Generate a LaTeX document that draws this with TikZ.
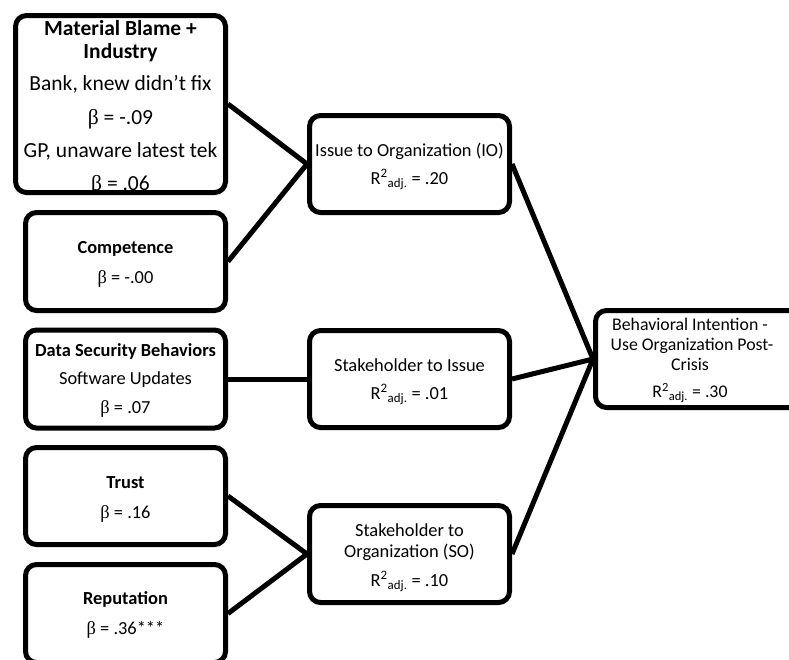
\documentclass[tikz,border=0pt]{standalone}
\usepackage{fontspec}
\setmainfont{Carlito}
\newfontfamily\grk{Liberation Serif}
\newcommand{\bet}{{\grk β}}
\newcommand{\Radj}{R\textsuperscript{2}\textsubscript{adj.}}
\begin{document}
\begin{tikzpicture}[x=1pt,y=-1pt,
  box/.style={draw=black,line width=5pt,rounded corners=11pt,fill=white,inner sep=0pt},
  lbox/.style={box,minimum width=200pt,minimum height=98pt},
  mbox/.style={box,minimum width=200pt,minimum height=97pt},
  conn/.style={draw=black,line width=5pt},
  txt/.style={font=\fontsize{18.4}{22}\selectfont,inner sep=0pt,text height=14pt,text depth=1.9pt},
  btxt/.style={txt,font=\fontsize{18.4}{22}\selectfont\bfseries},
  rtxt/.style={font=\fontsize{17.8}{20}\selectfont,inner sep=0pt,text height=13.5pt,text depth=1.8pt},
  bigtxt/.style={font=\fontsize{21.5}{25}\selectfont,inner sep=0pt,text height=16.3pt,text depth=2.1pt},
  bigbtxt/.style={bigtxt,font=\fontsize{21.5}{25}\selectfont\bfseries}]
\useasboundingbox (0,0) rectangle (789,659);
\clip (0,0) rectangle (789,659);
% boxes
\node[box,minimum width=210pt,minimum height=177pt] (b1) at (120.5,104) {};
\node[lbox] (comp) at (125.5,261.5) {};
\node[lbox] (ds) at (125.5,379) {};
\node[lbox,minimum height=97pt] (trust) at (125.5,496) {};
\node[lbox] (rep) at (125.5,613.5) {};
\node[mbox] (io) at (409.5,164) {};
\node[mbox] (si) at (409.5,379) {};
\node[mbox] (so) at (409.5,554) {};
\node[mbox,minimum width=204pt] (bi) at (697.5,359) {};
% connectors
\draw[conn] (b1.east) -- (io.west);
\draw[conn] (comp.east) -- (io.west);
\draw[conn] (ds.east) -- (si.west);
\draw[conn] (trust.east) -- (so.west);
\draw[conn] (rep.east) -- (so.west);
\draw[conn] (io.east) -- (bi.west);
\draw[conn] (si.east) -- (bi.west);
\draw[conn] (so.east) -- (bi.west);
% texts
\node[bigbtxt] (t1a) at (120.5,28) {Material Blame +};
\node[bigbtxt] (t1b) at (120.5,51) {Industry};
\node[bigtxt] (t1c) at (120.5,83) {Bank, knew didn't fix};
\node[bigtxt] (t1d) at (120.5,117) {\bet{} = -.09};
\node[bigtxt] (t1e) at (120.5,150) {GP, unaware latest tek};
\node[bigtxt] (t1f) at (120.5,183) {\bet{} = .06};
\node[btxt] (t2a) at (125.5,247) {Competence};
\node[txt] (t2b) at (125.5,277) {\bet{} = -.00};
\node[btxt] (t3a) at (125.5,350) {Data Security Behaviors};
\node[txt] (t3b) at (125.5,378.5) {Software Updates};
\node[txt] (t3c) at (125.5,407) {\bet{} = .07};
\node[btxt] (t4a) at (125.5,482) {Trust};
\node[txt] (t4b) at (125.5,512) {\bet{} = .16};
\node[btxt] (t5a) at (125.5,598) {Reputation};
\node[txt] (t5b) at (125.5,628) {\bet{} = .36***};
\node[txt] (t6a) at (409.5,150) {Issue to Organization (IO)};
\node[txt] (t6b) at (409.5,178) {\Radj{} = .20};
\node[txt] (t7a) at (409.5,365) {Stakeholder to Issue};
\node[txt] (t7b) at (409.5,393) {\Radj{} = .01};
\node[txt] (t8a) at (409.5,530) {Stakeholder to};
\node[txt] (t8b) at (409.5,551) {Organization (SO)};
\node[txt] (t8c) at (409.5,580) {\Radj{} = .10};
\node[rtxt] (t9a) at (690,325) {Behavioral Intention -};
\node[rtxt] (t9b) at (692,345) {Use Organization Post-};
\node[rtxt] (t9c) at (690,365) {Crisis};
\node[rtxt] (t9d) at (690,392) {\Radj{} = .30};
\end{tikzpicture}
\end{document}
